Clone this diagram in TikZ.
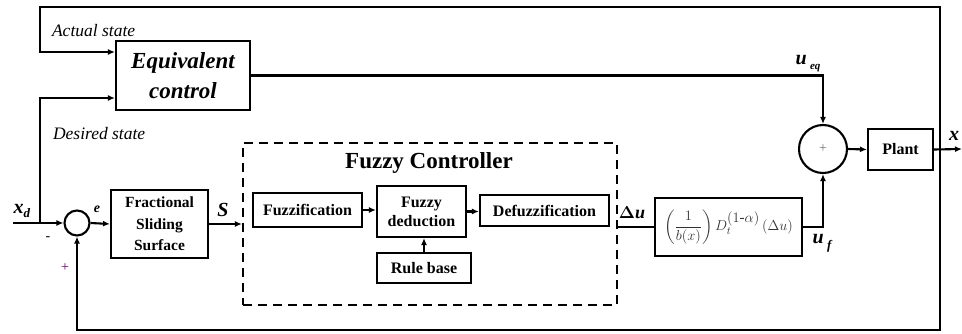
\documentclass[tikz,border=0pt]{standalone}
\usepackage{amsmath}
\usepackage{fontspec}
\setmainfont{Liberation Serif}
\usetikzlibrary{arrows.meta,calc}
\begin{document}
\begin{tikzpicture}[x=1pt,y=-1pt,
  line width=2.1pt,
  arr/.style={-{Latex[length=7pt,width=6pt]}},
  blk/.style={draw,rectangle,inner sep=0pt,align=center,font=\fontsize{16}{19}\selectfont\bfseries},
  sumc/.style={draw,circle,inner sep=0pt},
  lbl/.style={inner sep=0pt,font=\fontsize{17.5}{19}\selectfont\itshape},
  biglbl/.style={inner sep=0pt,font=\fontsize{20}{22}\selectfont\bfseries\itshape}]
\useasboundingbox (0,0) rectangle (962,334);

% blocks
\node[blk,minimum width=134pt,minimum height=69pt,font=\fontsize{23}{30}\selectfont\bfseries\itshape] (eqc) at (183,75.5) {Equivalent\\control};
\node[sumc,minimum size=25pt] (sum1) at (77,223) {};
\node[blk,minimum width=97pt,minimum height=68pt,font=\fontsize{15.5}{21.5}\selectfont\bfseries] (fss) at (159.5,224) {Fractional\\Sliding\\Surface};
\node[draw,rectangle,dash pattern=on 9pt off 6pt,minimum width=374pt,minimum height=162pt,inner sep=0pt] (fc) at (430,224) {};
\node[inner sep=0pt,font=\fontsize{23}{26}\selectfont\bfseries] (fct) at (429,163) {Fuzzy Controller};
\node[blk,minimum width=109pt,minimum height=34pt] (fuzz) at (307.5,210) {Fuzzification};
\node[blk,minimum width=89pt,minimum height=51pt] (ded) at (421.5,211.5) {Fuzzy\\deduction};
\node[blk,minimum width=129pt,minimum height=31pt] (defuz) at (544.5,210.5) {Defuzzification};
\node[blk,minimum width=94pt,minimum height=30pt] (rule) at (424,268) {Rule base};
\node[blk,minimum width=147pt,minimum height=58pt,font=\fontsize{15}{17}\selectfont,text=black!80] (form) at (728.5,227)
  {$\left(\dfrac{1}{b(x)}\right)D_t^{\textstyle(1\text{-}\alpha)}\,{(\Delta u)}$};
\node[sumc,minimum size=48pt] (sum2) at (823,149) {};
\node[inner sep=0pt,text=black!55,font=\fontsize{14}{14}\selectfont] (plus2) at (823,149) {+};
\node[blk,minimum width=65pt,minimum height=41pt] (plant) at (900.5,149.5) {Plant};

% coordinates
\coordinate (xin) at (13,223);
\coordinate (br) at (40,223);
\coordinate (tap) at (940,149);
\coordinate (topR) at (940,7);
\coordinate (topL) at (40,7);
\coordinate (bot) at (940,330);
\coordinate (out) at (962,149);

% connectors
\draw[arr] (xin) -- (sum1.west);
\draw[arr] (br) |- ([yshift=-22.5pt]eqc.west);
\draw[arr] (tap) -- (topR) -- (topL) |- ([yshift=23.5pt]eqc.west);
\draw[arr] (tap) -- (bot) -- (bot -| sum1.south) -- (sum1.south);
\draw[arr] (sum1.east) -- (fss.west);
\draw[arr] (fss.east) -- (fss.east -| fc.west);
\draw[arr] (fuzz.east) -- (fuzz.east -| ded.west);
\draw[arr] (ded.east) -- (ded.east -| defuz.west);
\draw[arr] (rule.north) -- (rule.north |- ded.south);
\draw (fc.east |- form.west) -- (form.west);
\draw[arr] (eqc.east) -| (sum2.north);
\draw[arr] (form.east) -| (sum2.south);
\draw[arr] (sum2.east) -- (plant.west);
\draw[arr] (plant.east) -- (out);

% labels
\node[lbl,anchor=west] (la) at (51,31) {Actual state};
\node[lbl,anchor=west] (ld) at (52,134) {Desired state};
\node[biglbl] (lxd) at (22,211) {x\textsubscript{\fontsize{13}{13}\selectfont d}};
\node[inner sep=0pt,font=\fontsize{14}{14}\selectfont] (lm) at (48,239) {-};
\node[inner sep=0pt,text=violet!80!black,font=\fontsize{14}{14}\selectfont] (lp) at (65,268) {+};
\node[inner sep=0pt,font=\fontsize{14}{14}\selectfont\bfseries\itshape] (le) at (97,209) {e};
\node[biglbl] (ls) at (223,210) {S};
\node[inner sep=0pt,font=\fontsize{18}{18}\selectfont\bfseries] (ldu) at (632,213) {$\boldsymbol{\Delta}$\textit{u}};
\node[biglbl] (lueq) at (808,64) {u\,\raisebox{-5pt}{\fontsize{11}{11}\selectfont eq}};
\node[biglbl] (luf) at (822,243) {u\,\raisebox{-6pt}{\fontsize{13}{13}\selectfont f}};
\node[biglbl] (lx) at (954,136) {x};
\end{tikzpicture}
\end{document}
